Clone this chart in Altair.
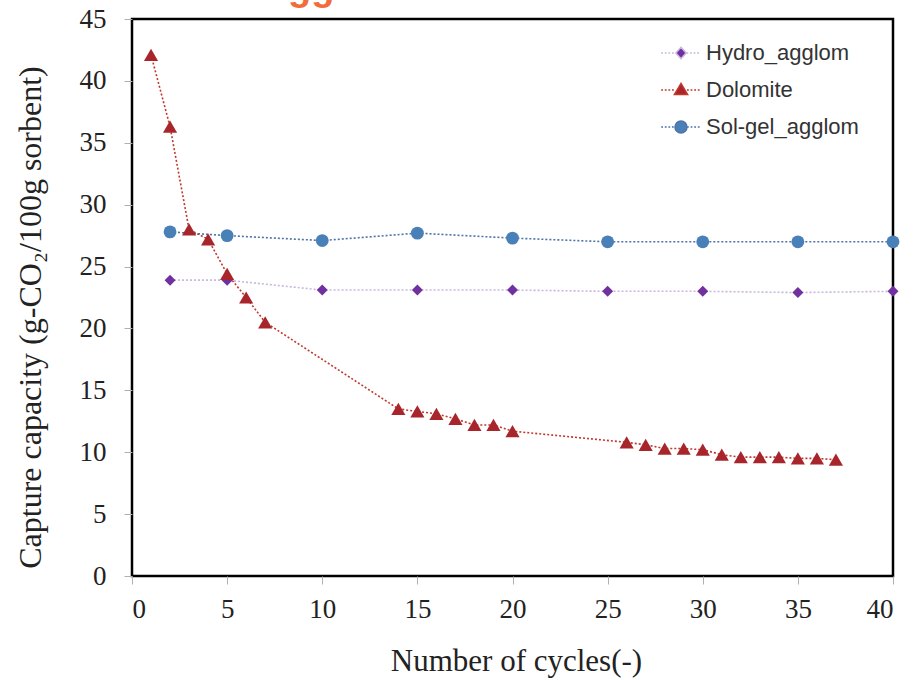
import altair as alt
import pandas as pd

# ---- data ----
series_names = ["Hydro_agglom", "Dolomite", "Sol-gel_agglom"]

hydro_cycles = [2, 5, 10, 15, 20, 25, 30, 35, 40]
hydro_values = [23.9, 23.9, 23.1, 23.1, 23.1, 23.0, 23.0, 22.9, 23.0]

dolomite_cycles = [1, 2, 3, 4, 5, 6, 7, 14, 15, 16, 17, 18, 19, 20,
                   26, 27, 28, 29, 30, 31, 32, 33, 34, 35, 36, 37]
dolomite_values = [42.1, 36.3, 28.0, 27.2, 24.4, 22.5, 20.5, 13.5, 13.3, 13.1, 12.7, 12.2, 12.2, 11.7,
                   10.8, 10.6, 10.3, 10.3, 10.2, 9.8, 9.6, 9.6, 9.6, 9.5, 9.5, 9.4]

solgel_cycles = [2, 5, 10, 15, 20, 25, 30, 35, 40]
solgel_values = [27.8, 27.5, 27.1, 27.7, 27.3, 27.0, 27.0, 27.0, 27.0]

x_ticks = [0, 5, 10, 15, 20, 25, 30, 35, 40]
y_ticks = [0, 5, 10, 15, 20, 25, 30, 35, 40, 45]
title_fragment = ["gg"]

# ---- styles ----
line_colors = ["#c9b6df", "#c0392b", "#4f73a8"]
marker_colors = ["#7030a0", "#a8262b", "#4a80b8"]
serif = "Liberation Serif"
sans = "Liberation Sans"


def dotted(x0, x1, step=0.6, dot=0.3):
    out = []
    x = x0
    while x + dot <= x1 + 1e-9:
        out.append(f"M {x:.2f} 0 L {x + dot:.2f} 0 ")
        x += step
    return "".join(out)


legend_paths = [
    dotted(-3.3, -0.9) + dotted(0.9, 3.3) + "M 0 -0.95 L 0.85 0 L 0 0.95 L -0.85 0 Z",
    dotted(-3.3, -1.0) + dotted(1.0, 3.3) + "M 0 -1.1 L 1.1 0.75 L -1.1 0.75 Z",
    dotted(-3.3, -1.0) + dotted(1.0, 3.3) + "M 1 0 A 1 1 0 1 1 -1 0 A 1 1 0 1 1 1 0 Z",
]

frames = []
for name, xs, ys in [
    (series_names[0], hydro_cycles, hydro_values),
    (series_names[1], dolomite_cycles, dolomite_values),
    (series_names[2], solgel_cycles, solgel_values),
]:
    frames.append(pd.DataFrame({"cycle": xs, "capacity": ys, "series": name}))
df = pd.concat(frames, ignore_index=True)

x_enc = alt.X(
    "cycle:Q",
    scale=alt.Scale(domain=[0, 40], nice=False),
    axis=alt.Axis(
        values=x_ticks, title="Number of cycles(-)", grid=False, domain=False,
        tickColor="#b0b0b0", tickSize=8, labelPadding=12,
        labelFont=serif, labelFontSize=27, labelColor="#222",
        titleFont=serif, titleFontSize=31, titleFontWeight="normal", titleColor="#222",
        titleX=384, titleY=94, titleBaseline="alphabetic",
    ),
)
y_enc = alt.Y(
    "capacity:Q",
    scale=alt.Scale(domain=[0, 45], nice=False),
    axis=alt.Axis(
        values=y_ticks, title="Capture capacity (g-CO₂/100g sorbent)", grid=False, domain=False,
        tickColor="#b0b0b0", tickSize=8, labelPadding=18,
        labelFont=serif, labelFontSize=27, labelColor="#222",
        titleFont=serif, titleFontSize=32, titleFontWeight="normal", titleColor="#222",
        titleX=-102, titleY=298, titleBaseline="middle", titleAngle=-90,
    ),
)

base = alt.Chart(df)

shapes = ["diamond", "triangle-up", "circle"]
sizes = [120, 200, 165]
line_layers = []
point_layers = []
for i, (name, shp, lc, mc, sz) in enumerate(zip(series_names, shapes, line_colors, marker_colors, sizes)):
    sub = base.transform_filter(alt.datum.series == name)
    line_layers.append(
        sub.mark_line(color=lc, strokeDash=[2, 2], strokeWidth=1.6).encode(
            x=x_enc if i == 0 else alt.X("cycle:Q"),
            y=y_enc if i == 0 else alt.Y("capacity:Q"),
        )
    )
    point_layers.append(
        sub.mark_point(shape=shp, filled=True, color=mc, size=sz, opacity=1, strokeWidth=0)
        .encode(x="cycle:Q", y="capacity:Q")
    )

# invisible layer (size 0) that only carries the legend
legend_layer = base.mark_point(filled=True, opacity=1, size=0, strokeWidth=1.5).encode(
    x="cycle:Q", y="capacity:Q",
    fill=alt.Fill("series:N", scale=alt.Scale(domain=series_names, range=marker_colors),
                  legend=alt.Legend(
                      title=None, orient="none", legendX=538, legendY=23,
                      labelFont=sans, labelFontSize=22, labelColor="#333",
                      symbolSize=144, symbolStrokeWidth=1.5, labelOffset=14,
                      rowPadding=15, padding=0, symbolOffset=0,
                  )),
    stroke=alt.Stroke("series:N", scale=alt.Scale(domain=series_names, range=line_colors)),
    shape=alt.Shape("series:N", scale=alt.Scale(domain=series_names, range=legend_paths)),
)

fragment = alt.Chart(pd.DataFrame({"t": title_fragment})).mark_text(
    font=sans, fontSize=38, fontWeight="bold", color="#f26b3a",
    align="left", baseline="alphabetic",
).encode(text="t:N", x=alt.value(156), y=alt.value(-19))

chart = alt.layer(*line_layers, *point_layers, legend_layer, fragment).properties(
    width=761,
    height=557,
    padding={"left": 132, "top": 19, "right": 27, "bottom": 104},
    autosize=alt.AutoSizeParams(type="none"),
    background="white",
).configure_view(
    stroke="black", strokeWidth=2.5
)

chart.save("out.html", embed_options={"renderer": "svg", "actions": False})
